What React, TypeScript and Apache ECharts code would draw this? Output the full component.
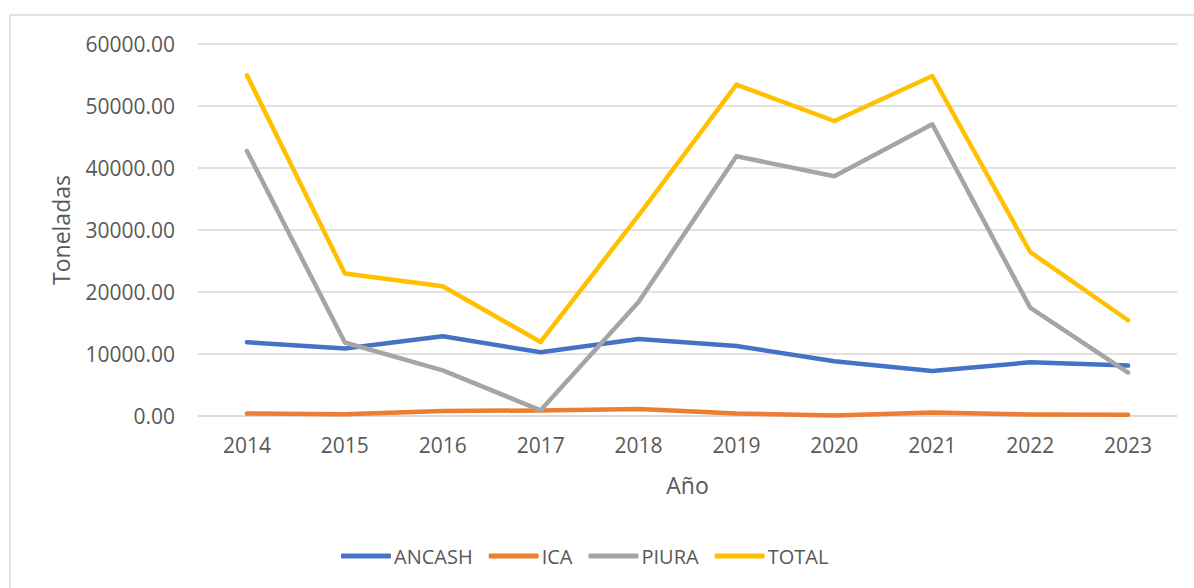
import React, { useEffect, useRef } from "react";
import * as echarts from "echarts";

const years = ["2014", "2015", "2016", "2017", "2018", "2019", "2020", "2021", "2022", "2023"];
const ancash = [11900, 10870, 12850, 10270, 12420, 11300, 8820, 7260, 8660, 8130];
const ica = [400, 300, 800, 900, 1130, 390, 100, 550, 250, 200];
const piura = [42740, 11850, 7370, 920, 18390, 41890, 38660, 47050, 17480, 7000];
const total = [54950, 22970, 20920, 11940, 32370, 53450, 47580, 54840, 26450, 15440];

const seriesNames = ["ANCASH", "ICA", "PIURA", "TOTAL"];
const seriesColors = ["#4472C4", "#ED7D31", "#A5A5A5", "#FFC000"];
const seriesData = [ancash, ica, piura, total];

const FONT = "Open Sans";
const TEXT_COLOR = "#595959";

export default function App() {
  const ref = useRef<HTMLDivElement>(null);
  useEffect(() => {
    if (!ref.current) return;
    const chart = echarts.init(ref.current, undefined, { renderer: "svg" });
    chart.setOption({
      animation: false,
      backgroundColor: "#ffffff",
      textStyle: { fontFamily: FONT },
      graphic: [
        {
          type: "rect",
          shape: { x: 10, y: 15, width: 1300, height: 700 },
          style: { fill: "none", stroke: "#d9d9d9", lineWidth: 1.5 },
          silent: true,
          z: -1,
        },
      ],
      grid: { left: 198, right: 17, top: 44, bottom: 172, containLabel: false },
      legend: {
        top: 541,
        left: 336,
        icon: "roundRect",
        itemWidth: 50,
        itemHeight: 5,
        itemGap: 16,
        data: seriesNames,
        textStyle: { color: TEXT_COLOR, fontSize: 20, fontFamily: FONT, padding: [0, 0, 0, -2] },
      },
      xAxis: {
        type: "category",
        data: years,
        boundaryGap: true,
        name: "Año",
        nameLocation: "middle",
        nameGap: 57,
        nameTextStyle: { color: TEXT_COLOR, fontSize: 23, fontFamily: FONT },
        axisLine: { show: true, lineStyle: { color: "#d9d9d9", width: 1.5 } },
        axisTick: { show: false },
        axisLabel: { color: TEXT_COLOR, fontSize: 21, fontFamily: FONT, margin: 18 },
      },
      yAxis: {
        type: "value",
        min: 0,
        max: 60000,
        interval: 10000,
        name: "Toneladas",
        nameLocation: "middle",
        nameRotate: 90,
        nameGap: 126,
        nameTextStyle: { color: TEXT_COLOR, fontSize: 23, fontFamily: FONT },
        axisLine: { show: false },
        axisTick: { show: false },
        splitLine: { lineStyle: { color: "#d9d9d9", width: 1.5 } },
        axisLabel: {
          color: TEXT_COLOR,
          fontSize: 21,
          fontFamily: FONT,
          margin: 23,
          formatter: (v: number) => v.toFixed(2),
        },
      },
      series: seriesNames.map((name, i) => ({
        name,
        type: "line",
        data: seriesData[i],
        symbol: "none",
        smooth: false,
        color: seriesColors[i],
        lineStyle: { color: seriesColors[i], width: 4.5, cap: "round", join: "round" },
      })),
    });
    return () => chart.dispose();
  }, []);
  return (
    <div
      ref={ref}
      style={{ position: "fixed", left: 0, top: 0, width: 1194, height: 588 }}
    />
  );
}
